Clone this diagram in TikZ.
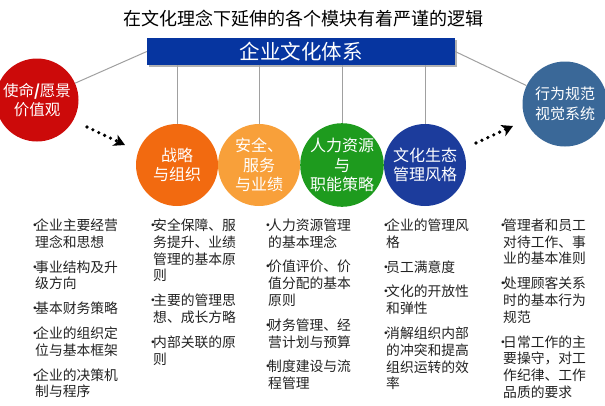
\documentclass[tikz,border=0pt]{standalone}
\usepackage{fontspec}
\setmainfont{Noto Sans CJK SC}
\usetikzlibrary{arrows.meta,shadows}
\definecolor{cred}{HTML}{CC0A0A}
\definecolor{corange}{HTML}{F26A10}
\definecolor{clight}{HTML}{F8A03A}
\definecolor{cgreen}{HTML}{1E9B1E}
\definecolor{cnavy}{HTML}{1C3C9C}
\definecolor{csteel}{HTML}{3A6898}
\definecolor{cbox}{HTML}{0635A0}
\definecolor{cline}{HTML}{A0A0A0}
\definecolor{ctext}{HTML}{222222}
\newcommand\bl{\makebox[7pt][l]{•}}
\newcommand\ind{\hspace*{7pt}}
\begin{document}
\begin{tikzpicture}[x=1pt,y=-1pt,
  ball/.style={circle,fill=#1,minimum size=82pt,inner sep=0pt,text=white,align=center,
    font=\fontsize{16}{19.5}\selectfont},
  connector/.style={draw=cline,line width=1pt},
  dotarrow/.style={line width=3.6pt,dash pattern=on 0pt off 6.5pt,line cap=round,
    -{Stealth[length=11pt,width=12pt,inset=3pt,line cap=butt]}},
  listcol/.style={anchor=north west,inner sep=0pt,align=left,text=ctext,
    font=\fontsize{13.8}{16.8}\selectfont}]
\useasboundingbox (0,0) rectangle (605,405);

\node (title) at (303,19) {\fontsize{18}{20}\selectfont 在文化理念下延伸的各个模块有着严谨的逻辑};

\node[fill=cbox,text=white,minimum width=308pt,minimum height=27pt,inner sep=0pt,
  drop shadow={shadow xshift=2pt,shadow yshift=-2pt,fill=gray!60,opacity=1},
  font=\fontsize{20.5}{22}\selectfont] (sys) at (301,51.5) {企业文化体系};

\node[ball=cred,minimum size=83pt,font=\fontsize{15.5}{19}\selectfont] (mission) at (37,100) {使命\textbf{/}愿景\\价值观};
\node[ball=csteel,minimum size=85pt,font=\fontsize{15}{20}\selectfont] (vis) at (565,104) {行为规范\\视觉系统};

\node[ball=corange] (c1) at (177,165) {战略\\与组织};
\node[ball=clight] (c2) at (259,165) {安全、\\服务\\与业绩};
\node[ball=cgreen] (c3) at (342,165) {人力资源\\与\\职能策略};
\node[ball=cnavy] (c4) at (425,165) {文化生态\\管理风格};

\draw[connector] (sys.west) -- (mission);
\draw[connector] (sys.east) -- (vis);
\draw[connector] (sys.south -| c1) -- (c1);
\draw[connector] (sys.south -| c2) -- (c2);
\draw[connector] (sys.south -| c3) -- (c3);
\draw[connector] (sys.south -| c4) -- (c4);

\coordinate (a1s) at (87,127);
\coordinate (a1e) at (125,145);
\coordinate (a2s) at (476,143);
\coordinate (a2e) at (513,126);
\draw[dotarrow] (a1s) -- (a1e);
\draw[dotarrow] (a2s) -- (a2e);

\node[listcol] (l1) at (28,218.5) {\bl 企业主要经营\\ \ind 理念和思想\\[8pt]
\bl 事业结构及升\\ \ind 级方向\\[8pt]
\bl 基本财务策略\\[8pt]
\bl 企业的组织定\\ \ind 位与基本框架\\[8pt]
\bl 企业的决策机\\ \ind 制与程序};

\node[listcol] (l2) at (146,218.5) {\bl 安全保障、服\\ \ind 务提升、业绩\\ \ind 管理的基本原\\ \ind 则\\[8pt]
\bl 主要的管理思\\ \ind 想、成长方略\\[8pt]
\bl 内部关联的原\\ \ind 则};

\node[listcol] (l3) at (261,218.5) {\bl 人力资源管理\\ \ind 的基本理念\\[8pt]
\bl 价值评价、价\\ \ind 值分配的基本\\ \ind 原则\\[8pt]
\bl 财务管理、经\\ \ind 营计划与预算\\[8pt]
\bl 制度建设与流\\ \ind 程管理};

\node[listcol] (l4) at (379,218.5) {\bl 企业的管理风\\ \ind 格\\[8pt]
\bl 员工满意度\\[8pt]
\bl 文化的开放性\\ \ind 和弹性\\[8pt]
\bl 消解组织内部\\ \ind 的冲突和提高\\ \ind 组织运转的效\\ \ind 率};

\node[listcol] (l5) at (496,218.5) {\bl 管理者和员工\\ \ind 对待工作、事\\ \ind 业的基本准则\\[8pt]
\bl 处理顾客关系\\ \ind 时的基本行为\\ \ind 规范\\[8pt]
\bl 日常工作的主\\ \ind 要操守，对工\\ \ind 作纪律、工作\\ \ind 品质的要求};
\end{tikzpicture}
\end{document}
